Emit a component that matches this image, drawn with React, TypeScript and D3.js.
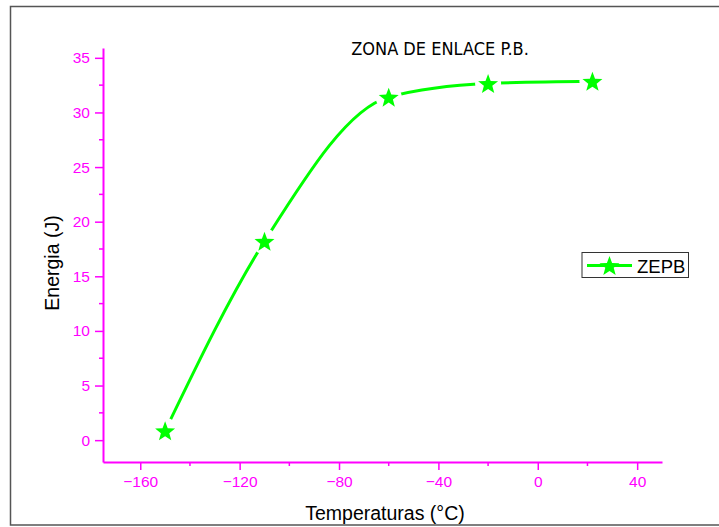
import React, { useRef, useEffect } from 'react';
import * as d3 from 'd3';

// data
const temperaturas = [-150, -110, -60, -20, 22];
const energia = [0.85, 18.2, 31.4, 32.65, 32.85];
const xTicks = [-160, -120, -80, -40, 0, 40];
const yTicks = [0, 5, 10, 15, 20, 25, 30, 35];
const serieName = 'ZEPB';
const title = 'ZONA DE ENLACE P.B.';

const MAGENTA = '#ff00ff';
const GREEN = '#00ff00';
const ARIAL = 'Arial, "Liberation Sans", sans-serif';

const starPath = (r: number) => {
  const pts: [number, number][] = [];
  for (let i = 0; i < 10; i++) {
    const rad = i % 2 === 0 ? r : r * 0.42;
    const a = -Math.PI / 2 + (i * Math.PI) / 5;
    pts.push([rad * Math.cos(a), rad * Math.sin(a)]);
  }
  return 'M' + pts.map(p => p.join(',')).join('L') + 'Z';
};

const App = () => {
  const ref = useRef<SVGSVGElement>(null);

  useEffect(() => {
    const width = 719;
    const height = 527;
    const margin = { top: 48, right: 57, bottom: 65, left: 103 };

    const svg = d3.select(ref.current);
    svg.selectAll('*').remove();
    svg.attr('width', width).attr('height', height);

    //outer frame
    svg.append('rect')
      .attr('x', 10.5).attr('y', 6.5)
      .attr('width', 720).attr('height', 518.5)
      .attr('fill', 'white')
      .attr('stroke', '#555').attr('stroke-width', 1.5);

    const x = d3.scaleLinear().domain([-175, 50]).range([margin.left, width - margin.right]);
    const y = d3.scaleLinear().domain([-2, 35.9]).range([height - margin.bottom, margin.top]);

    const data = temperaturas.map((t, i) => [t, energia[i]] as [number, number]);

    //x axis
    const xMinor = xTicks.slice(0, -1).map(t => t + 20);
    const gx = svg.append('g').attr('transform', `translate(0,${y(-2)})`);
    gx.call(d3.axisBottom(x).tickValues(xTicks).tickSize(8).tickSizeOuter(0).tickPadding(6).tickFormat(d3.format('d')))
      .call(g => g.select('.domain').attr('stroke', MAGENTA).attr('stroke-width', 2))
      .call(g => g.selectAll('.tick line').attr('stroke', MAGENTA).attr('stroke-width', 1.5))
      .call(g => g.selectAll('.tick text').attr('fill', MAGENTA).attr('font-size', 15.5)
        .attr('font-family', ARIAL));
    gx.selectAll('.minor').data(xMinor).join('line')
      .attr('x1', d => x(d)).attr('x2', d => x(d))
      .attr('y1', 0).attr('y2', 4)
      .attr('stroke', MAGENTA).attr('stroke-width', 1.5);

    //y axis
    const yMinor = yTicks.map(t => t + 2.5).filter(t => t < 35.9);
    const gy = svg.append('g').attr('transform', `translate(${x(-175)},0)`);
    gy.call(d3.axisLeft(y).tickValues(yTicks).tickSize(8).tickSizeOuter(0).tickPadding(5))
      .call(g => g.select('.domain').attr('stroke', MAGENTA).attr('stroke-width', 2))
      .call(g => g.selectAll('.tick line').attr('stroke', MAGENTA).attr('stroke-width', 1.5))
      .call(g => g.selectAll('.tick text').attr('fill', MAGENTA).attr('font-size', 15.5)
        .attr('font-family', ARIAL));
    gy.selectAll('.minor').data(yMinor).join('line')
      .attr('y1', d => y(d)).attr('y2', d => y(d))
      .attr('x1', 0).attr('x2', -4)
      .attr('stroke', MAGENTA).attr('stroke-width', 1.5);

    //mask so the line has gaps around the markers
    const mask = svg.append('defs').append('mask').attr('id', 'gaps');
    mask.append('rect').attr('width', width).attr('height', height).attr('fill', 'white');
    mask.selectAll('circle').data(data).join('circle')
      .attr('cx', d => x(d[0])).attr('cy', d => y(d[1])).attr('r', 13).attr('fill', 'black');

    const line = d3.line<[number, number]>()
      .x(d => x(d[0])).y(d => y(d[1]))
      .curve(d3.curveMonotoneX);

    svg.append('path')
      .datum(data)
      .attr('d', line)
      .attr('fill', 'none')
      .attr('stroke', GREEN)
      .attr('stroke-width', 3)
      .attr('mask', 'url(#gaps)');

    svg.selectAll('.star').data(data).join('path')
      .attr('class', 'star')
      .attr('transform', d => `translate(${x(d[0])},${y(d[1]) + 1})`)
      .attr('d', starPath(10.5))
      .attr('fill', GREEN);

    //title
    svg.append('text')
      .attr('x', 440).attr('y', 55)
      .attr('text-anchor', 'middle')
      .style('font-family', '"DejaVu Sans Condensed", "DejaVu Sans", sans-serif')
      .style('font-size', '18px')
      .text(title);

    //axis titles
    svg.append('text')
      .attr('x', 385).attr('y', 520)
      .attr('text-anchor', 'middle')
      .style('font-family', ARIAL)
      .style('font-size', '19.5px')
      .text('Temperaturas (°C)');

    svg.append('text')
      .attr('transform', 'translate(59,263) rotate(-90)')
      .attr('text-anchor', 'middle')
      .style('font-family', ARIAL)
      .style('font-size', '19.5px')
      .text('Energia (J)');

    //legend
    const lg = svg.append('g').attr('transform', 'translate(582,252.5)');
    lg.append('rect').attr('width', 106.5).attr('height', 25)
      .attr('fill', 'white').attr('stroke', '#333').attr('stroke-width', 1);
    lg.append('line').attr('x1', 5).attr('x2', 50).attr('y1', 13).attr('y2', 13)
      .attr('stroke', GREEN).attr('stroke-width', 3);
    lg.append('path').attr('transform', 'translate(27.5,14)').attr('d', starPath(10.5)).attr('fill', GREEN);
    lg.append('text').attr('x', 55).attr('y', 20)
      .style('font-family', ARIAL)
      .style('font-size', '18.5px')
      .text(serieName);
  }, []);

  return <svg ref={ref} style={{ position: 'absolute', left: 0, top: 0 }}></svg>;
};

export default App;
